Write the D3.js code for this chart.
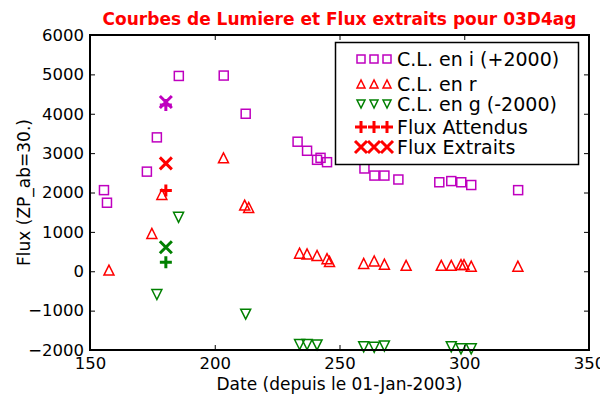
<!DOCTYPE html>
<html><head><meta charset="utf-8">
<script src="https://cdn.jsdelivr.net/npm/d3@7"></script>
<style>body{margin:0;background:#fff}svg{display:block}text{font-family:"DejaVu Sans",sans-serif}</style>
</head><body>
<svg id="c" width="600" height="400"></svg>
<script>
const iDates = [155.6,156.8,172.8,176.8,185.6,203.6,212.4,233.2,237,241,242.4,245,260,264,268,273.6,290,294.8,298.8,302.8,321.6];
const iFlux  = [2060,1740,2530,3400,4960,4970,4000,3290,3060,2830,2880,2770,2610,2430,2430,2330,2260,2290,2260,2190,2060];
const rDates = [157.6,174.8,178.8,203.5,212,213.6,234,237,241,245,246,259.7,263.9,268,276.7,290.8,294.8,298.7,299.9,302.8,321.5];
const rFlux  = [30,960,1950,2880,1680,1620,460,440,400,320,250,200,260,180,150,150,150,170,170,130,130];
const gDates = [176.8,185.5,212.4,234,237,241,259.7,263.9,268,294.8,298.7,302.8];
const gFlux  = [-590,1370,-1090,-1860,-1860,-1870,-1920,-1930,-1900,-1920,-1970,-1970];
const obsDate = 180.4;
const expectedFlux = [4220,2050,230];
const extractedFlux = [4300,2740,610];
const bandColors = ["#bf00bf","#ff0000","#008000"];
const xTicks = [150,200,250,300,350];
const yTicks = [-2000,-1000,0,1000,2000,3000,4000,5000,6000];
const legendLabels = ["C.L. en i (+2000)","C.L. en r","C.L. en g (-2000)","Flux Attendus","Flux Extraits"];

const svg = d3.select("#c");
const L=90,R=589,T=35,B=350;
const x = d3.scaleLinear().domain([150,350]).range([L,R]);
const y = d3.scaleLinear().domain([-2000,6000]).range([B,T]);

function sq(g,cx,cy,s,c){g.append("rect").attr("x",cx-s/2).attr("y",cy-s/2).attr("width",s).attr("height",s).attr("fill","none").attr("stroke",c).attr("stroke-width",1.5);}
function tri(g,cx,cy,s,c,up){const h=s/2;const p=up?[[cx,cy-h],[cx-h,cy+h],[cx+h,cy+h]]:[[cx,cy+h],[cx-h,cy-h],[cx+h,cy-h]];g.append("polygon").attr("points",p.map(d=>d.join(",")).join(" ")).attr("fill","none").attr("stroke",c).attr("stroke-width",1.5);}
function plus(g,cx,cy,s,c){const h=s/2;g.append("path").attr("d",`M${cx-h},${cy}H${cx+h}M${cx},${cy-h}V${cy+h}`).attr("stroke",c).attr("stroke-width",3).attr("fill","none");}
function cross(g,cx,cy,s,c){const h=s/2;g.append("path").attr("d",`M${cx-h},${cy-h}L${cx+h},${cy+h}M${cx-h},${cy+h}L${cx+h},${cy-h}`).attr("stroke",c).attr("stroke-width",3).attr("fill","none");}

const pts = svg.append("g");
iDates.forEach((d,k)=>sq(pts,x(d),y(iFlux[k]),9,bandColors[0]));
rDates.forEach((d,k)=>tri(pts,x(d),y(rFlux[k]),10,bandColors[1],true));
gDates.forEach((d,k)=>tri(pts,x(d),y(gFlux[k]),10,bandColors[2],false));
expectedFlux.forEach((v,k)=>plus(pts,x(obsDate),y(v),12,bandColors[k]));
extractedFlux.forEach((v,k)=>cross(pts,x(obsDate),y(v),12,bandColors[k]));

// axes
const fs=16.5;
const ax = svg.append("g").attr("transform",`translate(0,${B})`).call(d3.axisBottom(x).tickValues(xTicks).tickSize(-5).tickPadding(7).tickFormat(d3.format("d")));
const ay = svg.append("g").attr("transform",`translate(${L},0)`).call(d3.axisLeft(y).tickValues(yTicks).tickSize(-5).tickPadding(6).tickFormat(d3.format("d")));
const at = svg.append("g").attr("transform",`translate(0,${T})`).call(d3.axisTop(x).tickValues(xTicks).tickSize(-5).tickFormat(""));
const ar = svg.append("g").attr("transform",`translate(${R},0)`).call(d3.axisRight(y).tickValues(yTicks).tickSize(-5).tickFormat(""));
[ax,ay,at,ar].forEach(a=>{a.select(".domain").remove();a.selectAll("line").attr("stroke","#000").attr("stroke-width",1);a.selectAll("text").attr("fill","#000").style("font-size",fs+"px").style("font-family","DejaVu Sans");});
svg.append("rect").attr("x",L).attr("y",T).attr("width",R-L).attr("height",B-T).attr("fill","none").attr("stroke","#000").attr("stroke-width",2);

svg.append("text").attr("x",(L+R)/2).attr("y",25).attr("text-anchor","middle").attr("fill","#ff0000").style("font-weight","bold").style("font-size","17px").text("Courbes de Lumiere et Flux extraits pour 03D4ag");
svg.append("text").attr("x",(L+R)/2).attr("y",390).attr("text-anchor","middle").style("font-size","17px").text("Date (depuis le 01-Jan-2003)");
svg.append("text").attr("transform",`translate(30,${(T+B)/2}) rotate(-90)`).attr("text-anchor","middle").style("font-size","17px").text("Flux (ZP_ab=30.)");

// legend
const lg = svg.append("g");
lg.append("rect").attr("x",335.5).attr("y",42.5).attr("width",243).attr("height",122).attr("fill","#fff").attr("stroke","#000").attr("stroke-width",1.5);
const rowsY=[59,84,104,127,147];
const lx=[361,374,387];
legendLabels.forEach((lab,k)=>{
  lx.forEach(px=>{
    if(k===0) sq(lg,px,rowsY[k],8,bandColors[0]);
    else if(k===1) tri(lg,px,rowsY[k],8,bandColors[1],true);
    else if(k===2) tri(lg,px,rowsY[k],8,bandColors[2],false);
    else if(k===3) plus(lg,px,rowsY[k],12,"#ff0000");
    else cross(lg,px,rowsY[k],12,"#ff0000");
  });
  lg.append("text").attr("x",397).attr("y",rowsY[k]).attr("dy","0.35em").style("font-size","19px").text(lab);
});
</script>
</body></html>
